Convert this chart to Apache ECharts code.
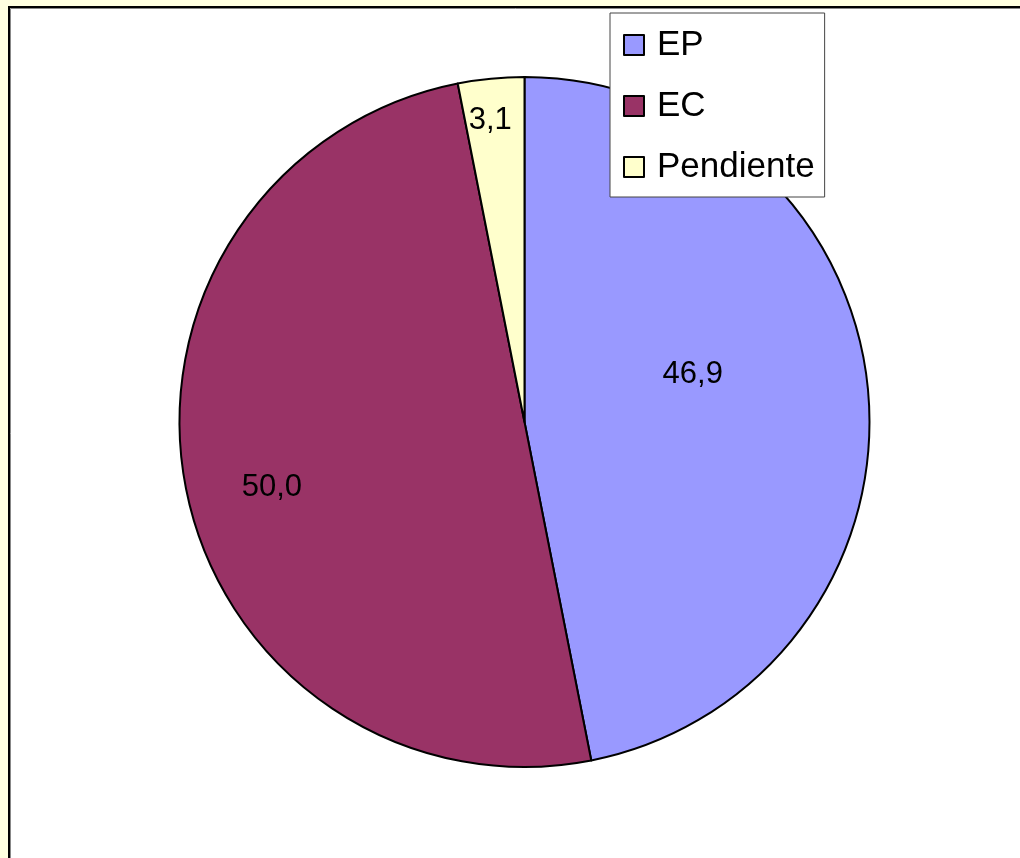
<!DOCTYPE html>
<html>
<head>
<meta charset="utf-8">
<script src="https://cdn.jsdelivr.net/npm/echarts@6/dist/echarts.min.js"></script>
<style>
  html, body { margin: 0; padding: 0; background: #FFFFE0; }
  #chart { width: 1020px; height: 858px; }
</style>
</head>
<body>
<div id="chart"></div>
<script>
const categories = ['EP', 'EC', 'Pendiente'];
const values = [46.9, 50.0, 3.1];
const colors = ['#9999FF', '#993366', '#FFFFCC'];
// label placement: fraction of radius and angular shift (degrees, clockwise positive)
const labelRadiusFraction = [0.507, 0.756, 0.881];
const labelAngleShift = [-10.3, -3.3, -0.9];

const CX = 524.5, CY = 422, R = 345;

const chart = echarts.init(document.getElementById('chart'));
chart.setOption({
  backgroundColor: '#FFFFE0',
  animation: false,
  graphic: [
    { type: 'rect', z: -10, silent: true,
      shape: { x: 9, y: 7, width: 1100, height: 1000 },
      style: { fill: '#FFFFFF', stroke: '#000000', lineWidth: 2 } },
    { type: 'polyline', z: -9, silent: true,
      shape: { points: [[10.5, 1000], [10.5, 8.5], [1100, 8.5]] },
      style: { fill: null, stroke: '#888888', lineWidth: 1 } }
  ],
  legend: {
    orient: 'vertical',
    left: 610,
    top: 13,
    padding: [12, 10, 10, 13],
    itemGap: 21,
    itemWidth: 20,
    itemHeight: 20,
    icon: 'rect',
    backgroundColor: '#FFFFFF',
    borderColor: '#444444',
    borderWidth: 1,
    itemStyle: { borderColor: '#000000', borderWidth: 2 },
    textStyle: { fontFamily: 'Liberation Sans, Arial, sans-serif', fontSize: 35, lineHeight: 40, color: '#000000', padding: [0, 0, 0, 8] },
    data: categories
  },
  series: [{
    type: 'pie',
    center: [CX, CY],
    radius: [0, R],
    startAngle: 90,
    clockwise: true,
    avoidLabelOverlap: false,
    silent: true,
    itemStyle: { borderColor: '#000000', borderWidth: 2 },
    label: {
      show: true,
      position: 'inside',
      fontFamily: 'Liberation Sans, Arial, sans-serif',
      fontSize: 31,
      color: '#000000',
      formatter: p => p.value.toFixed(1).replace('.', ',')
    },
    labelLine: { show: false },
    labelLayout: function (params) {
      const r = params.labelRect;
      const lx = r.x + r.width / 2, ly = r.y + r.height / 2;
      const vx = lx - CX, vy = ly - CY;
      const ang = Math.atan2(vx, -vy) + labelAngleShift[params.dataIndex] * Math.PI / 180;
      const nd = labelRadiusFraction[params.dataIndex] * R;
      const nx = CX + nd * Math.sin(ang), ny = CY - nd * Math.cos(ang);
      return { dx: nx - lx, dy: ny - ly };
    },
    data: categories.map((c, i) => ({ name: c, value: values[i], itemStyle: { color: colors[i] } }))
  }]
});
</script>
</body>
</html>
